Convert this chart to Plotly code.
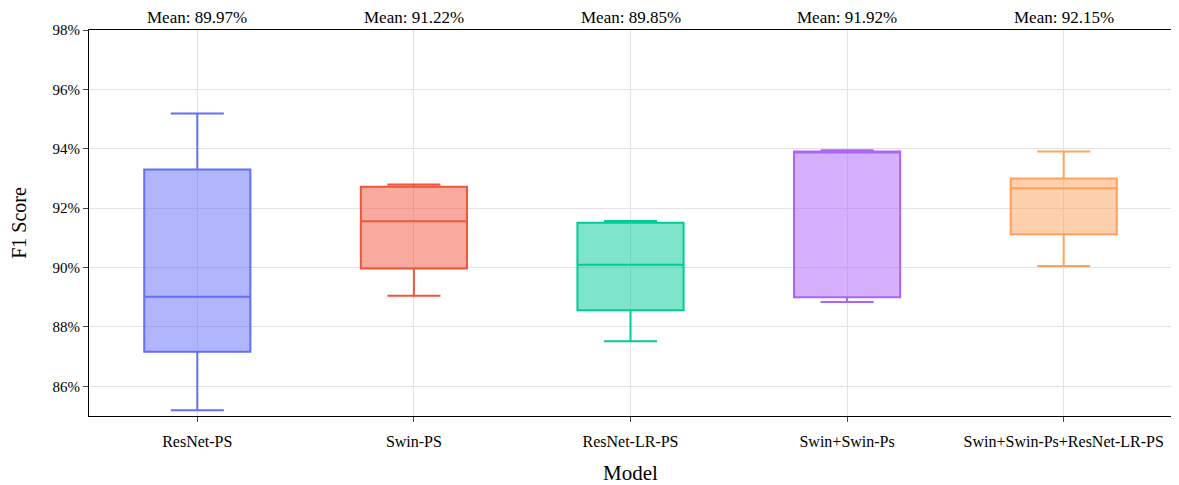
import plotly.graph_objects as go

models = ["ResNet-PS", "Swin-PS", "ResNet-LR-PS", "Swin+Swin-Ps", "Swin+Swin-Ps+ResNet-LR-PS"]

# F1 scores (%) per fold
resnet_ps = [85.19, 87.16, 89.02, 93.30, 95.19]
swin_ps = [89.05, 89.97, 91.56, 92.72, 92.80]
resnet_lr_ps = [87.52, 88.56, 90.09, 91.51, 91.57]
swin_swin_ps = [88.84, 89.00, 93.89, 93.91, 93.95]
ensemble = [90.05, 91.12, 92.67, 93.00, 93.91]

series = [resnet_ps, swin_ps, resnet_lr_ps, swin_swin_ps, ensemble]
colors = ["#636EFA", "#EF553B", "#00CC96", "#AB63FA", "#FFA15A"]

y_ticks = [86, 88, 90, 92, 94, 96, 98]
y_tick_text = ["86%", "88%", "90%", "92%", "94%", "96%", "98%"]

FONT = "Liberation Serif, Times New Roman, serif"


def rgba(hex_color, a):
    h = hex_color.lstrip("#")
    r, g, b = int(h[0:2], 16), int(h[2:4], 16), int(h[4:6], 16)
    return f"rgba({r},{g},{b},{a})"


fig = go.Figure()
for name, vals, col in zip(models, series, colors):
    fig.add_trace(go.Box(
        y=vals,
        x=[name] * len(vals),
        name=name,
        marker_color=col,
        line=dict(color=col, width=2),
        fillcolor=rgba(col, 0.5),
        boxpoints=False,
        whiskerwidth=0.5,
        quartilemethod="inclusive",
        showlegend=False,
    ))

for name, vals in zip(models, series):
    mean = sum(vals) / len(vals)
    fig.add_annotation(
        x=name, y=1, xref="x", yref="paper",
        yanchor="bottom", showarrow=False,
        text=f"Mean: {mean:.2f}%",
        font=dict(family=FONT, size=17, color="black"),
        yshift=1,
    )

fig.update_layout(
    width=1171, height=477,
    margin=dict(l=81, r=7, t=22, b=69),
    paper_bgcolor="white",
    plot_bgcolor="white",
    font=dict(family=FONT, size=15, color="black"),
    xaxis=dict(
        title=dict(text="Model", font=dict(size=21), standoff=17),
        automargin=False,
        showline=True, linecolor="black", linewidth=1, mirror=True,
        ticks="outside", ticklen=5, tickcolor="#444",
        ticklabelstandoff=6,
        showgrid=True, gridcolor="#e2e2e2", gridwidth=1,
        categoryorder="array", categoryarray=models,
        tickfont=dict(size=16),
    ),
    yaxis=dict(
        title=dict(text="F1 Score", font=dict(size=20), standoff=22),
        automargin=False,
        range=[85, 98],
        tickmode="array",
        tickvals=y_ticks,
        ticktext=y_tick_text,
        showline=True, linecolor="black", linewidth=1, mirror=True,
        ticks="outside", ticklen=5, tickcolor="#444",
        showgrid=True, gridcolor="#e2e2e2", gridwidth=1,
        zeroline=False,
        tickfont=dict(size=15),
    ),
)

fig.write_html("out.html")
